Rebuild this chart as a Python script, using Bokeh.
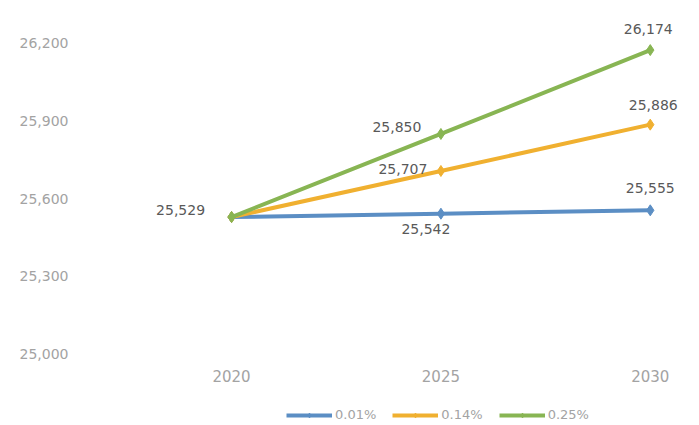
from bokeh.plotting import figure
from bokeh.layouts import column
from bokeh.models import (ColumnDataSource, FixedTicker, Legend, LegendItem,
                          NumeralTickFormatter, Range1d)
from bokeh.core.properties import value
from bokeh.embed import file_html
from bokeh.resources import INLINE

years = [2020, 2025, 2030]
series_names = ["0.01%", "0.14%", "0.25%"]
s001 = [25529, 25542, 25555]
s014 = [25529, 25707, 25886]
s025 = [25529, 25850, 26174]
y_ticks = [25000, 25300, 25600, 25900, 26200]

colors = ["#5b8ec4", "#f0b030", "#88b553"]
FONT = "DejaVu Sans"
TICK_COLOR = "#a3a3a3"

p = figure(width=683, height=388, output_backend="svg", toolbar_location=None,
           x_range=Range1d(2016.32, 2030.77), y_range=Range1d(24998, 26327),
           min_border_left=77, min_border_right=1, min_border_top=10,
           min_border_bottom=34)
p.outline_line_color = None
p.grid.grid_line_color = None

for ax in (p.xaxis[0], p.yaxis[0]):
    ax.axis_line_color = None
    ax.major_tick_line_color = None
    ax.minor_tick_line_color = None
    ax.major_label_text_color = TICK_COLOR
    ax.major_label_text_font = FONT
    ax.major_label_text_font_size = "14px"

p.yaxis.ticker = FixedTicker(ticks=y_ticks)
p.yaxis.formatter = NumeralTickFormatter(format="0,0")
p.yaxis.major_label_standoff = 3
p.xaxis.ticker = FixedTicker(ticks=years)
p.xaxis.major_label_standoff = 9
p.xaxis.major_label_text_font_size = "15px"

all_series = [s001, s014, s025]
for vals, col in zip(all_series, colors):
    src = ColumnDataSource(dict(x=years, y=vals))
    p.line("x", "y", source=src, line_color=col, line_width=4)
    p.scatter("x", "y", source=src, marker="diamond", size=11,
              fill_color=col, line_color=col)

# data labels (offsets are styling, in screen pixels)
label_style = dict(text_font=value(FONT), text_font_size="14px",
                   text_color="#595959", text_baseline="middle",
                   text_align="center")
lab_x, lab_y, lab_t = [], [], []
for vals in all_series:
    for yr, v in zip(years[1:], vals[1:]):
        lab_x.append(yr)
        lab_y.append(v)
        lab_t.append(f"{v:,}")
dx = [-15, 0, -38, 3, -44, -2]
dy = [15, -22, -2, -20, -7, -21]
p.text(x="x", y="y", text="t", x_offset="dx", y_offset="dy",
       source=ColumnDataSource(dict(x=lab_x, y=lab_y, t=lab_t, dx=dx, dy=dy)),
       **label_style)
p.text(x=years[0], y=s025[0], text=value(f"{s025[0]:,}"),
       x_offset=-51, y_offset=-7, **label_style)

# legend strip below the chart (its renderers' data lie outside its ranges)
p2 = figure(width=683, height=36, output_backend="svg", toolbar_location=None,
            x_range=Range1d(0, 1), y_range=Range1d(0, 1),
            min_border=0, min_border_left=0, min_border_right=0,
            min_border_top=0, min_border_bottom=0)
p2.axis.visible = False
p2.grid.grid_line_color = None
p2.outline_line_color = None
items = []
for name, vals, col in zip(series_names, all_series, colors):
    src = ColumnDataSource(dict(x=years, y=vals))
    ln = p2.line("x", "y", source=src, line_color=col, line_width=4)
    mk = p2.scatter("x", "y", source=src, marker="diamond", size=9,
                    fill_color=col, line_color=col)
    items.append(LegendItem(label=name, renderers=[ln, mk]))
legend = Legend(items=items, orientation="horizontal", location=(209, 2),
                label_text_font=FONT, label_text_font_size="13px",
                label_text_color=TICK_COLOR, glyph_width=46, glyph_height=12,
                spacing=16, label_standoff=3, border_line_color=None,
                background_fill_alpha=0, margin=0, padding=3)
p2.add_layout(legend)

layout = column(p, p2, spacing=0)
open("out.html", "w").write(file_html(layout, INLINE))
